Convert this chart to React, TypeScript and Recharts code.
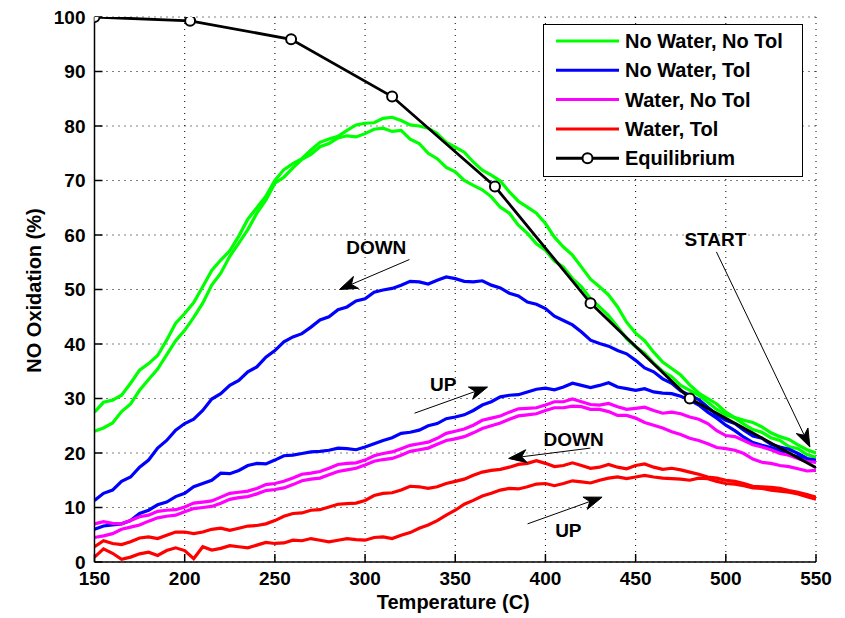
import React from 'react';
import { LineChart, Line, XAxis, YAxis, CartesianGrid, ReferenceLine, ReferenceDot } from 'recharts';

const temps = [
  150,155,160,165,170,175,180,185,190,195,
  200,205,210,215,220,225,230,235,240,245,
  250,255,260,265,270,275,280,285,290,295,
  300,305,310,315,320,325,330,335,340,345,
  350,355,360,365,370,375,380,385,390,395,
  400,405,410,415,420,425,430,435,440,445,
  450,455,460,465,470,475,480,485,490,495,
  500,505,510,515,520,525,530,535,540,545,
  550,
];
const xTicks = [150,200,250,300,350,400,450,500,550];
const yTicks = [0,10,20,30,40,50,60,70,80,90,100];

const greenA = [
  27.5,29.3,29.7,30.6,32.8,35.2,36.4,37.9,40.7,43.8,
  45.6,47.6,50.5,53.5,55.4,57.1,59.8,62.9,65.0,67.1,
  70.0,72.0,73.1,74.0,75.6,77.0,77.6,78.1,79.2,80.2,
  80.5,80.6,81.4,81.6,81.0,80.2,80.0,79.6,78.6,77.0,
  76.1,75.2,73.4,71.9,71.0,69.9,67.9,66.2,65.1,64.0,
  62.1,59.6,57.8,56.3,54.1,51.9,50.5,49.0,46.8,44.0,
  42.0,40.6,38.5,36.7,35.5,34.3,32.5,31.0,30.0,29.0,
  27.5,26.5,26.0,25.6,24.8,23.7,23.0,22.5,21.5,20.6,
  20.0,
];
const greenB = [
  24.0,24.6,25.5,27.6,29.0,31.5,33.5,35.4,38.0,40.6,
  42.5,44.9,47.5,50.8,53.0,56.1,58.5,61.0,64.0,66.4,
  69.5,70.6,72.3,73.9,74.8,76.2,76.8,77.8,78.2,78.0,
  78.6,79.4,79.6,79.0,79.2,77.6,76.8,75.0,74.0,72.4,
  71.6,70.0,69.1,68.3,67.0,65.1,64.0,61.8,60.3,58.4,
  57.2,55.2,54.1,52.0,50.5,48.3,46.8,45.2,43.1,41.0,
  39.5,38.3,36.5,35.0,34.0,32.4,31.5,30.6,29.3,28.0,
  27.0,26.4,25.3,24.3,23.8,22.8,22.3,21.2,20.8,19.7,
  19.2,
];
const blueDown = [
  11.3,12.6,13.2,14.8,15.6,17.4,18.7,20.9,22.3,24.2,
  25.4,26.2,27.8,29.9,30.9,32.4,33.3,34.9,35.8,37.6,
  38.8,40.4,41.3,41.9,43.1,44.4,45.0,46.3,46.8,47.9,
  48.3,49.5,49.9,50.2,50.8,51.5,51.4,51.0,51.7,52.3,
  52.0,51.5,51.4,51.6,50.8,50.3,49.3,48.8,47.7,47.3,
  46.5,45.1,44.3,43.5,42.2,40.7,40.1,39.6,38.8,38.2,
  37.0,35.6,34.9,33.6,32.8,31.4,30.6,29.8,28.4,27.0,
  26.0,25.4,24.2,23.1,22.7,21.6,21.1,20.7,19.9,19.0,
  18.7,
];
const blueUp = [
  6.0,6.6,6.8,7.0,7.6,8.9,9.5,10.5,11.0,12.0,
  12.6,13.8,14.4,15.0,16.3,16.2,16.8,17.7,18.1,18.0,
  18.7,19.5,19.6,19.9,20.2,20.3,20.5,20.9,20.8,20.6,
  21.1,21.7,22.3,22.8,23.6,23.8,24.2,25.0,25.4,26.3,
  26.6,27.0,27.8,28.8,29.4,30.3,30.6,30.7,31.2,31.7,
  31.9,31.6,32.1,32.8,32.4,32.0,32.4,32.9,32.1,31.8,
  31.5,31.8,31.2,31.0,30.9,30.4,29.7,28.8,27.5,26.4,
  25.1,24.1,22.9,21.9,21.4,21.0,20.5,19.7,19.3,18.8,
  18.3,
];
const magentaA = [
  7.0,7.4,7.1,7.0,7.6,8.3,8.6,9.3,9.5,9.6,
  10.1,10.8,11.0,11.2,11.9,12.6,12.8,13.0,13.5,14.2,
  14.4,14.8,15.4,16.1,16.3,16.6,17.2,17.9,18.1,18.2,
  18.7,19.5,19.9,20.2,20.8,21.4,21.7,22.0,22.7,23.6,
  24.0,24.4,25.1,26.0,26.4,26.8,27.5,28.1,28.2,28.3,
  28.8,29.4,29.4,29.9,29.4,28.9,28.8,29.1,28.5,28.0,
  28.2,28.4,27.8,27.3,27.5,27.2,26.6,26.2,25.4,24.1,
  23.2,23.0,22.3,21.5,21.1,20.6,19.9,19.6,19.0,18.4,
  18.3,
];
const magentaB = [
  4.5,4.8,5.2,6.0,6.4,6.8,7.5,8.1,8.4,8.6,
  9.2,9.8,10.0,10.2,10.8,11.5,11.8,12.0,12.5,13.1,
  13.3,13.6,14.2,14.9,15.2,15.4,16.0,16.6,16.9,17.2,
  17.8,18.5,18.8,19.0,19.6,20.3,20.6,20.9,21.6,22.3,
  22.6,23.0,23.7,24.5,25.0,25.5,26.2,26.8,27.0,27.2,
  27.8,28.3,28.3,28.6,28.5,28.0,28.0,27.6,26.9,26.9,
  26.4,25.6,25.1,24.6,23.9,23.4,22.7,22.3,21.7,21.0,
  20.8,20.5,19.9,18.9,18.3,18.1,17.7,17.5,17.1,16.7,
  16.8,
];
const redDown = [
  2.8,3.9,3.4,3.2,3.7,4.4,4.6,4.3,4.9,5.5,
  5.5,5.2,5.5,6.0,6.2,5.8,6.2,6.6,6.7,7.0,
  7.6,8.4,8.9,9.0,9.5,9.6,10.1,10.6,10.7,10.8,
  11.3,12.2,12.6,12.7,13.2,13.9,13.8,13.5,13.8,14.4,
  14.8,15.2,15.9,16.5,16.8,17.0,17.4,17.9,18.1,18.6,
  18.1,17.5,17.7,18.2,17.7,17.2,17.4,17.9,17.4,17.1,
  17.7,18.0,17.4,17.0,17.2,16.9,16.5,16.1,15.6,15.4,
  15.0,14.8,14.4,13.9,13.8,13.7,13.5,13.1,12.8,12.4,
  11.9,
];
const redUp = [
  0.9,2.4,1.6,0.5,0.9,1.5,1.8,1.2,2.1,2.6,
  2.1,0.6,2.8,2.2,2.5,3.0,2.8,2.6,3.1,3.6,
  3.4,3.5,4.0,3.9,4.3,4.0,3.7,4.0,4.3,4.1,
  4.0,4.5,4.6,4.3,4.9,5.4,6.2,6.8,7.6,8.6,
  9.5,10.6,11.3,12.1,12.6,13.2,13.5,13.4,13.8,14.3,
  14.4,14.0,14.4,14.9,14.7,14.5,15.0,15.4,15.6,15.3,
  15.6,15.9,15.6,15.4,15.3,15.2,15.0,15.4,15.3,14.8,
  14.4,14.3,14.0,13.6,13.5,13.2,13.0,12.8,12.5,12.0,
  11.5,
];

const eqTemps = [150,203,259,315,372,425,480,550];
const eqValues = [100,99.3,95.9,85.4,68.9,47.5,30.0,17.3];

const legendNames = ['No Water, No Tol','No Water, Tol','Water, No Tol','Water, Tol','Equilibrium'];
const legendColors = ['#00ff00','#0000ff','#ff00ff','#ff0000','#000000'];

const noteLabels = ['DOWN','UP','DOWN','UP','START'];
const noteT = [306.2,343.3,415.6,412.7,494.2];
const noteV = [57.7,32.5,22.4,5.7,59.2];
const arrowFromT = [324.6,327.4,424.9,390.1,494.8];
const arrowFromV = [55.5,27.3,20.9,7.0,56.9];
const arrowToT = [285.8,367.9,379.6,431.4,546.6];
const arrowToV = [50.0,32.1,19.0,11.9,21.1];

const FONT = 'Arial, "Liberation Sans", Helvetica, sans-serif';

const toPoints = (vals: number[]) => temps.map((t, i) => ({ t, v: vals[i] }));

const series = [
  { key: 'gA', vals: greenA, color: legendColors[0] },
  { key: 'gB', vals: greenB, color: legendColors[0] },
  { key: 'bD', vals: blueDown, color: legendColors[1] },
  { key: 'bU', vals: blueUp, color: legendColors[1] },
  { key: 'mA', vals: magentaA, color: legendColors[2] },
  { key: 'mB', vals: magentaB, color: legendColors[2] },
  { key: 'rD', vals: redDown, color: legendColors[3] },
  { key: 'rU', vals: redUp, color: legendColors[3] },
];

const eqData = eqTemps.map((t, i) => ({ t, v: eqValues[i] }));

const ArrowShape = (p: any) => {
  const { x1, y1, x2, y2 } = p;
  const dx = x2 - x1;
  const dy = y2 - y1;
  const len = Math.sqrt(dx * dx + dy * dy) || 1;
  const ux = dx / len;
  const uy = dy / len;
  const L = 18;
  const W = 6.5;
  const N = 13;
  const bx = x2 - ux * L;
  const by = y2 - uy * L;
  const nx = x2 - ux * N;
  const ny = y2 - uy * N;
  const pts = [
    [x2, y2],
    [bx - uy * W, by + ux * W],
    [nx, ny],
    [bx + uy * W, by - ux * W],
  ].map((q) => q.join(',')).join(' ');
  return (
    <g>
      <line x1={x1} y1={y1} x2={nx} y2={ny} stroke="#000" strokeWidth={1} />
      <polygon points={pts} fill="#000" stroke="#000" strokeWidth={1} />
    </g>
  );
};

const makeTextShape = (label: string) => (p: any) => (
  <text
    x={p.cx}
    y={p.cy}
    textAnchor="middle"
    dominantBaseline="central"
    fontFamily={FONT}
    fontSize={19}
    fontWeight="bold"
    fill="#000"
  >
    {label}
  </text>
);

const EqDot = (p: any) => {
  if (p.index === eqValues.length - 1) return <g key={`eqd-${p.index}`} />;
  return <circle key={`eqd-${p.index}`} cx={p.cx} cy={p.cy} r={5} stroke="#000" strokeWidth={2} fill="#fff" />;
};

const tickStyle = { fill: '#000', fontSize: 19, fontWeight: 'bold', fontFamily: FONT };

const XLabel = (p: any) => {
  const vb = p.viewBox;
  return (
    <text x={vb.x + vb.width / 2 - 2} y={vb.y + 47} textAnchor="middle" fontFamily={FONT} fontSize={20} fontWeight="bold" fill="#000">
      Temperature (C)
    </text>
  );
};

const YLabel = (p: any) => {
  const vb = p.viewBox;
  const cx = vb.x + 33.5;
  const cy = vb.y + vb.height / 2 + 1;
  return (
    <text x={cx} y={cy} transform={`rotate(-90, ${cx}, ${cy})`} textAnchor="middle" dominantBaseline="central" fontFamily={FONT} fontSize={20} fontWeight="bold" fill="#000">
      NO Oxidation (%)
    </text>
  );
};

const LegendBox = () => {
  const left = 543.5;
  const top = 24.5;
  const rowStart = 41;
  const rowGap = 29.3;
  return (
    <svg width={845} height={618} style={{ position: 'absolute', left: 0, top: 0, pointerEvents: 'none' }}>
      <rect x={left} y={top} width={259} height={152} fill="#fff" stroke="#000" strokeWidth={1} />
      {legendNames.map((name, i) => {
        const y = rowStart + i * rowGap;
        return (
          <g key={name}>
            <line x1={556} x2={619} y1={y} y2={y} stroke={legendColors[i]} strokeWidth={3} />
            {i === legendNames.length - 1 && <circle cx={587.5} cy={y} r={5} stroke="#000" strokeWidth={2} fill="#fff" />}
            <text x={625} y={y + 7} fontFamily={FONT} fontSize={20} fontWeight="bold" fill="#000">
              {name}
            </text>
          </g>
        );
      })}
    </svg>
  );
};

export default function App() {
  return (
    <div style={{ position: 'absolute', left: 0, top: 0, width: 845, height: 618, background: '#fff' }}>
      <LineChart width={845} height={618} margin={{ top: 17, right: 29, bottom: 0, left: 0 }} style={{ fontFamily: FONT }}>
        <CartesianGrid stroke="#000" strokeDasharray="1 5" strokeWidth={1} />
        <XAxis
          type="number"
          dataKey="t"
          domain={[150, 550]}
          ticks={xTicks}
          allowDataOverflow
          height={56}
          tickSize={-8}
          tickMargin={18}
          stroke="#000"
          strokeWidth={1.5}
          tick={tickStyle}
          label={{ content: XLabel }}
        />
        <YAxis
          type="number"
          dataKey="v"
          domain={[0, 100]}
          ticks={yTicks}
          allowDataOverflow
          width={94.5}
          tickSize={-8}
          tickMargin={17}
          stroke="#000"
          strokeWidth={1.5}
          tick={tickStyle}
          label={{ content: YLabel }}
        />
        <XAxis xAxisId="top" orientation="top" type="number" domain={[150, 550]} ticks={xTicks} allowDataOverflow height={0} tickSize={-8} tick={false} stroke="#000" strokeWidth={1.5} />
        <YAxis yAxisId="right" orientation="right" type="number" domain={[0, 100]} ticks={yTicks} allowDataOverflow width={0} tickSize={-8} tick={false} stroke="#000" strokeWidth={1.5} />
        {series.map((s) => (
          <Line key={s.key} data={toPoints(s.vals)} dataKey="v" type="linear" stroke={s.color} strokeWidth={3.2} dot={false} isAnimationActive={false} />
        ))}
        <Line data={eqData} dataKey="v" type="linear" stroke="#000" strokeWidth={2.8} dot={EqDot} isAnimationActive={false} />
        {noteLabels.map((lab, i) => (
          <ReferenceLine
            key={`arr-${i}`}
            segment={[{ x: arrowFromT[i], y: arrowFromV[i] }, { x: arrowToT[i], y: arrowToV[i] }]}
            shape={ArrowShape}
          />
        ))}
        {noteLabels.map((lab, i) => (
          <ReferenceDot key={`txt-${i}`} x={noteT[i]} y={noteV[i]} r={0} shape={makeTextShape(lab)} />
        ))}
      </LineChart>
      <LegendBox />
    </div>
  );
}
